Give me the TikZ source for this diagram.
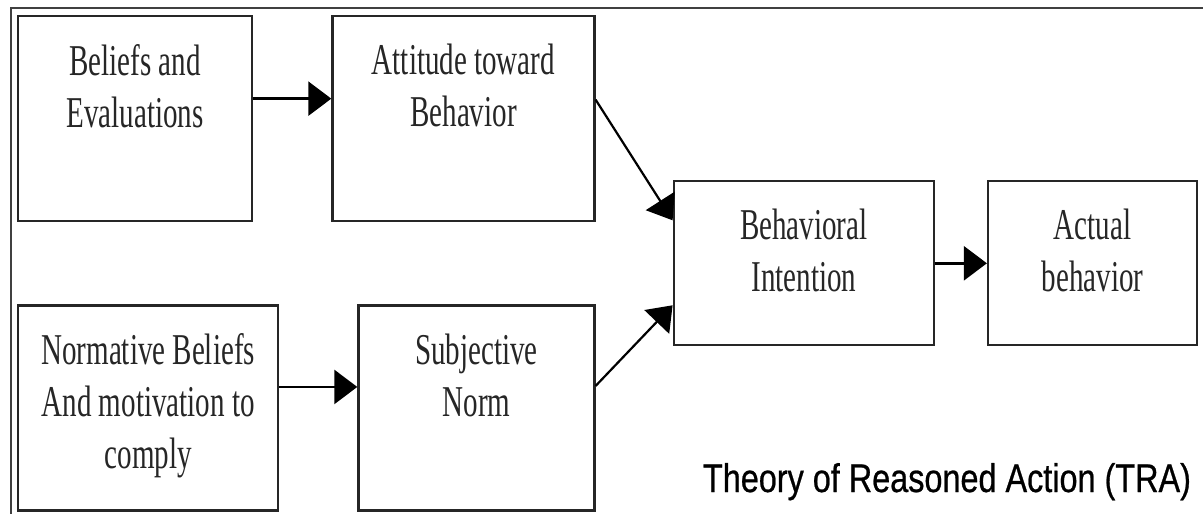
\documentclass[tikz,border=0pt]{standalone}
\usepackage{fontspec}
\usetikzlibrary{arrows.meta,positioning,calc}

\newfontfamily\boxfont[FakeStretch=0.66]{Liberation Serif}
\newfontfamily\titlefont[FakeStretch=0.81,FakeBold=0.6]{Liberation Sans}

\begin{document}
\begin{tikzpicture}[
  x=1pt, y=-1pt,
  box/.style={draw=black!85, line width=2.3pt, minimum height=205pt, inner sep=0pt},
  txt/.style={anchor=north, align=center, inner sep=0pt, yshift=-29pt,
    text=black!85, font=\boxfont\fontsize{44}{52}\selectfont},
  title/.style={inner sep=0pt, text=black, font=\titlefont\fontsize{40}{48}\selectfont},
  arr/.style={->, line width=2.6pt, draw=black},
  >={Triangle[length=23pt, width=34pt]}
]
\useasboundingbox (0,0) rectangle (1203,514);

% outer frame (only left and top edges are visible)
\draw[black!75, line width=2.8pt] (11,514) -- (11,8) -- (1203,8);

\node[box, minimum width=234pt, anchor=north west,
  label={[txt]north:{Beliefs and\\Evaluations}}] (bel) at (17,15) {};
\node[box, minimum width=262pt, right=78pt of bel,
  label={[txt]north:{Attitude toward\\Behavior}}] (att) {};
\node[box, minimum width=260pt, below=82pt of bel.south west, anchor=north west,
  label={[txt]north:{Normative Beliefs\\And motivation to\\comply}}] (nor) {};
\node[box, minimum width=236pt, right=78pt of nor,
  label={[txt]north:{Subjective\\Norm}}] (sub) {};
\node[box, minimum width=260pt, minimum height=164pt,
  right=77pt of {$(att.east)!0.5!(sub.east)$},
  label={[txt]north:{Behavioral\\Intention}}] (bint) {};
\node[box, minimum width=209pt, minimum height=164pt, right=52pt of bint,
  label={[txt]north:{Actual\\behavior}}] (act) {};

\draw[arr] ([yshift=20pt]bel.east) -- ([yshift=20pt]att.west);
\draw[arr] ([yshift=21pt]nor.east) -- ([yshift=21pt]sub.west);
\draw[arr, line width=2.2pt] ([yshift=19pt]att.east) -- ([yshift=43pt]bint.west);
\draw[arr, line width=2.2pt] ([yshift=22pt]sub.east) -- ([yshift=-42pt]bint.west);
\draw[arr] (bint) -- (act);

\node[title, anchor=base] (tra) at (947,492) {Theory of Reasoned Action (TRA)};
\end{tikzpicture}
\end{document}
